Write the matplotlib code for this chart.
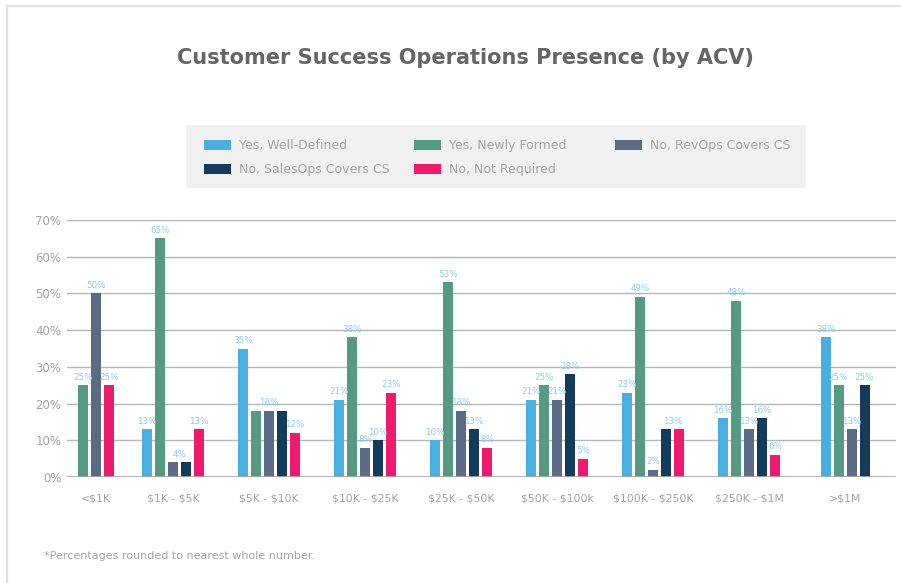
import numpy as np
import matplotlib
matplotlib.use("Agg")
import matplotlib.pyplot as plt
from matplotlib.patches import Rectangle
from matplotlib.lines import Line2D

categories = ["<$1K", "$1K - $5K", "$5K - $10K", "$10K - $25K", "$25K - $50K",
              "$50K - $100k", "$100K - $250K", "$250K - $1M", ">$1M"]

series_names = ["Yes, Well-Defined", "Yes, Newly Formed", "No, RevOps Covers CS",
                "No, SalesOps Covers CS", "No, Not Required"]

# 0 means no bar in that group
well_defined = [0, 13, 35, 21, 10, 21, 23, 16, 38]
newly_formed = [25, 65, 18, 38, 53, 25, 49, 48, 25]
revops = [50, 4, 18, 8, 18, 21, 2, 13, 13]
salesops = [0, 4, 18, 10, 13, 28, 13, 16, 25]
not_required = [25, 13, 12, 23, 8, 5, 13, 6, 0]

colors = ["#4baee3", "#559a82", "#5b6b85", "#143a5c", "#ee1a6c"]
label_color = "#8ecbf0"
text_gray = "#a3a3a3"

plt.rcParams['font.family'] = ['DejaVu Sans']
plt.rcParams['text.parse_math'] = False

fig = plt.figure(figsize=(9.01, 5.83), dpi=100)
ax = fig.add_axes([67 / 901, 1 - 477 / 583, 829 / 901, 257 / 583])

values = np.array([well_defined, newly_formed, revops, salesops, not_required])
group_x = np.arange(len(categories), dtype=float)
group_x[0] = 0.2  # first group sits a bit right of the regular spacing
pitch = 0.135
width = 0.104

for i, gx in enumerate(group_x):
    present = [s for s in range(5) if values[s, i] > 0]
    n = len(present)
    xs = [gx + (k - (n - 1) / 2) * pitch for k in range(n)]
    for x, s in zip(xs, present):
        ax.bar(x, values[s, i], width=width, color=colors[s], zorder=3)
    # one label per run of equal neighbouring values
    k = 0
    while k < n:
        j = k
        while j + 1 < n and values[present[j + 1], i] == values[present[k], i]:
            j += 1
        v = values[present[k], i]
        ax.text((xs[k] + xs[j]) / 2, v + 1.0, f"{v}%", ha="center", va="bottom",
                fontsize=6.3, color=label_color, zorder=4)
        k = j + 1

ax.set_xlim(-0.104, 8.53)
ax.set_ylim(0, 70)
ax.set_yticks(range(0, 71, 10))
ax.set_yticklabels([f"{t}%" for t in range(0, 71, 10)])
ax.set_xticks(group_x)
ax.set_xticklabels(categories)
ax.tick_params(axis="y", length=0, pad=4, labelsize=8.5, labelcolor=text_gray)
ax.tick_params(axis="x", length=0, pad=12, labelsize=7.8, labelcolor=text_gray)
ax.grid(axis="y", color="#b5b5b5", linewidth=1, zorder=0)
for sp in ax.spines.values():
    sp.set_visible(False)
ax.axhline(0, color="#a8a8a8", linewidth=1.2, zorder=5)

# card border
fig.add_artist(Line2D([7 / 901, 1], [1 - 6 / 583] * 2, color="#dfe3e8", linewidth=1.6))
fig.add_artist(Line2D([7 / 901] * 2, [0, 1 - 6 / 583], color="#dfe3e8", linewidth=1.6))

fig.text(465 / 901, 1 - 58 / 583, "Customer Success Operations Presence (by ACV)",
         ha="center", va="center", fontsize=15, fontweight="bold", color="#646569")

# legend box
fig.add_artist(Rectangle((186 / 901, 1 - 188 / 583), 620 / 901, 63 / 583,
                         transform=fig.transFigure, facecolor="#f0f0f0", edgecolor="none"))
col_x = [204, 414, 615]
row_y = [145, 169]
for s, name in enumerate(series_names):
    cx = col_x[s % 3]
    cy = row_y[s // 3]
    fig.add_artist(Rectangle((cx / 901, 1 - (cy + 5) / 583), 27 / 901, 10 / 583,
                             transform=fig.transFigure, facecolor=colors[s], edgecolor="none"))
    fig.text((cx + 35) / 901, 1 - cy / 583, name, ha="left", va="center",
             fontsize=9, color=text_gray)

fig.text(44 / 901, 1 - 556 / 583, "*Percentages rounded to nearest whole number.",
         ha="left", va="center", fontsize=8, color=text_gray)

fig.savefig("out.png", dpi=100)
